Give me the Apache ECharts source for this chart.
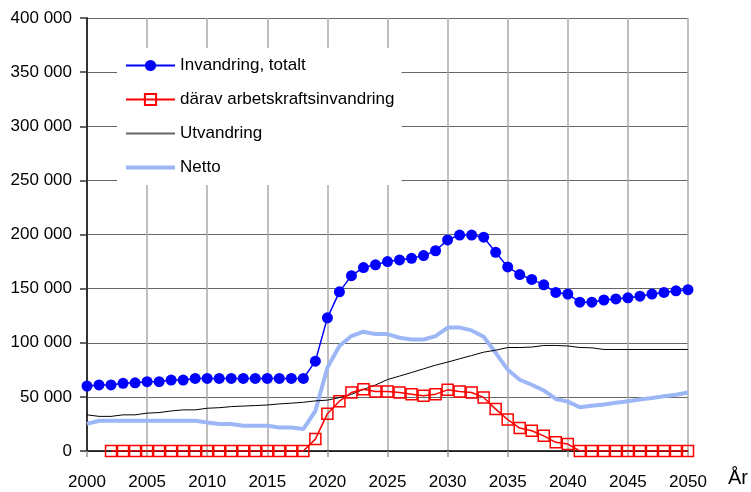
<!DOCTYPE html>
<html><head><meta charset="utf-8">
<script src="https://cdn.jsdelivr.net/npm/echarts@6/dist/echarts.min.js"></script>
<style>html,body{margin:0;padding:0;background:#fff}#c{width:751px;height:492px}</style>
</head><body><div id="c"></div>
<script>
const years = [2000,2001,2002,2003,2004,2005,2006,2007,2008,2009,2010,2011,2012,2013,2014,2015,2016,2017,2018,2019,2020,2021,2022,2023,2024,2025,2026,2027,2028,2029,2030,2031,2032,2033,2034,2035,2036,2037,2038,2039,2040,2041,2042,2043,2044,2045,2046,2047,2048,2049,2050];
const invandring = [60000,61000,61000,62500,63000,64000,64000,65500,65500,67000,67000,67000,67000,67000,67000,67000,67000,67000,67000,83000,123000,147000,162000,169500,172000,175000,176500,178000,180500,185000,195000,199500,199500,197500,183500,170000,163000,158500,153500,146500,145000,137500,137500,139500,140500,141500,143000,145000,146500,148000,149000];
const arbetskraft = [null,null,0,0,0,0,0,0,0,0,0,0,0,0,0,0,0,0,0,11000,34500,46000,54000,57000,55000,55000,54000,52500,51000,52500,56500,55000,54000,49500,38700,29000,21200,18700,14000,8000,6400,0,0,0,0,0,0,0,0,0,0];
const utvandring = [33400,32000,32000,33400,33400,35000,35500,37000,38000,38000,39500,40000,41000,41500,42000,42500,43500,44200,45000,46300,47000,49300,52300,56900,61000,66000,69200,72500,75900,79300,82100,85200,88200,91300,93100,95600,95600,96000,97500,97500,97000,95600,95300,93800,93800,93800,93800,93800,93800,93800,93800];
const netto = [25000,27900,27900,27900,27900,27900,27900,27900,27900,27900,26400,24900,24900,23300,23300,23300,21800,21800,20300,37100,77000,97000,106200,110200,108000,108000,104600,103000,103000,106100,114000,114000,111400,105600,90700,75100,65800,61200,55900,48100,45600,40400,41700,43000,44500,46000,47500,49000,50500,52000,54000];
const seriesNames = ['Invandring, totalt','därav arbetskraftsinvandring','Utvandring','Netto'];
const xName = 'År';

const pair = arr => years.map((y,i) => [y, arr[i]]);
const fmt = v => v === 0 ? '0' : String(v).replace(/\B(?=(\d{3})+(?!\d))/g, ' ');
const FONT = '"Liberation Sans", Arial, sans-serif';
const NETTO = '#9db6f6';

const chart = echarts.init(document.getElementById('c'), null, {renderer:'canvas'});
chart.setOption({
  animation:false,
  backgroundColor:'#fff',
  textStyle:{fontFamily:FONT},
  grid:{left:87,right:63,top:18,bottom:41,containLabel:false},
  legend:{
    orient:'vertical', left:117, top:48,
    padding:[9,7,9,7], itemGap:17, itemWidth:49, itemHeight:14,
    backgroundColor:'#fff',
    textStyle:{fontSize:17,color:'#000',fontFamily:FONT},
    data:[
      {name:seriesNames[0]},
      {name:seriesNames[1]},
      {name:seriesNames[2], itemStyle:{opacity:0,color:'rgba(0,0,0,0)',borderWidth:0}, lineStyle:{color:'#666',width:2}},
      {name:seriesNames[3], itemStyle:{opacity:0,color:'rgba(0,0,0,0)',borderWidth:0}, lineStyle:{color:NETTO,width:4}}
    ]
  },
  xAxis:{
    type:'value', min:2000, max:2050, interval:5,
    name:xName, nameLocation:'end', nameGap:40,
    nameTextStyle:{fontSize:20,color:'#000',fontFamily:FONT,verticalAlign:'top',padding:[17,0,0,0]},
    axisLine:{lineStyle:{color:'#000',width:1.5}},
    axisTick:{show:true,length:6,lineStyle:{color:'#999',width:1.5}},
    axisLabel:{fontSize:17,color:'#000',margin:23,formatter:v=>String(v),fontFamily:FONT},
    splitLine:{show:true,lineStyle:{color:'#aaa',width:1.5}}
  },
  yAxis:{
    type:'value', min:0, max:400000, interval:50000,
    axisLine:{show:true,lineStyle:{color:'#333',width:2}},
    axisTick:{show:true,length:7,lineStyle:{color:'#333',width:1.5}},
    axisLabel:{fontSize:17,color:'#000',margin:15,formatter:fmt,fontFamily:FONT},
    splitLine:{show:true,lineStyle:{color:'#666',width:1.2}}
  },
  series:[
    {name:seriesNames[0],type:'line',data:pair(invandring),symbol:'circle',symbolSize:11,
      itemStyle:{color:'#0000ff'},lineStyle:{color:'#0000ff',width:1.5},z:5},
    {name:seriesNames[1],type:'line',data:pair(arbetskraft),symbol:'rect',symbolSize:11,
      itemStyle:{color:'rgba(255,255,255,0)',borderColor:'#ff0000',borderWidth:1.5},
      lineStyle:{color:'#ff0000',width:1.5},z:4},
    {name:seriesNames[2],type:'line',data:pair(utvandring),showSymbol:false,
      itemStyle:{color:'#000'},lineStyle:{color:'#000',width:1},z:3},
    {name:seriesNames[3],type:'line',data:pair(netto),showSymbol:false,
      itemStyle:{color:NETTO},lineStyle:{color:NETTO,width:4},z:2}
  ]
});
</script></body></html>
